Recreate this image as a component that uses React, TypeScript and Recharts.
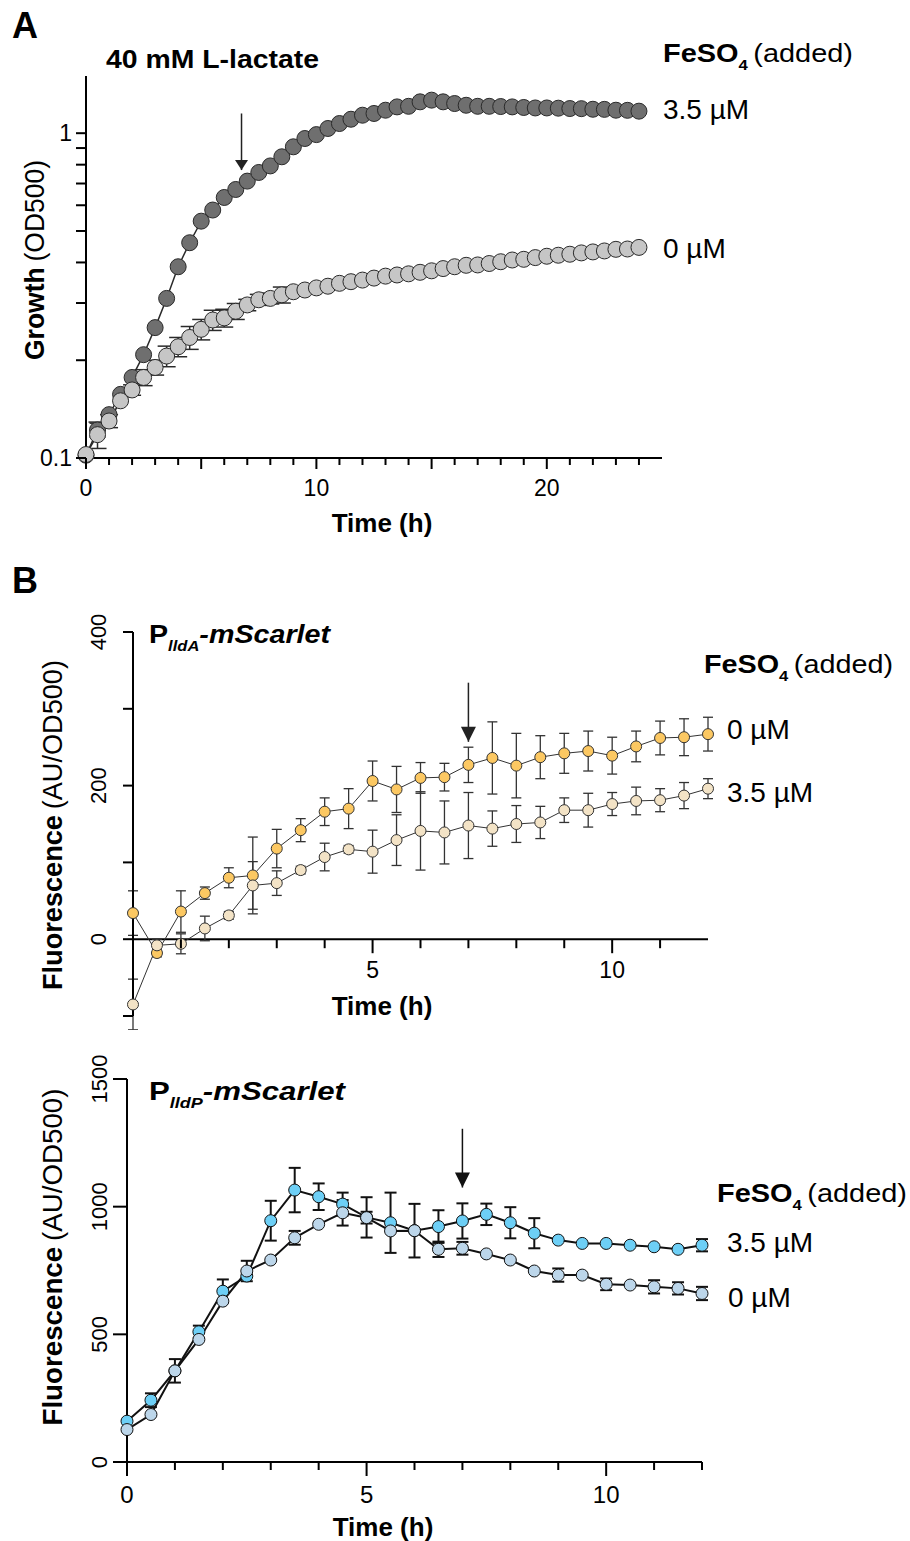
import {
  ComposedChart,
  Line,
  XAxis,
  YAxis,
  ErrorBar,
  ReferenceLine,
  ReferenceDot,
} from "recharts";

const FONT = "'Liberation Sans', Arial, Helvetica, sans-serif";

/* ---------- PANEL A: GROWTH ---------- */
const growthHours = [
  0, 0.5, 1, 1.5, 2, 2.5, 3, 3.5, 4, 4.5, 5, 5.5, 6, 6.5, 7, 7.5, 8, 8.5, 9, 9.5,
  10, 10.5, 11, 11.5, 12, 12.5, 13, 13.5, 14, 14.5, 15, 15.5, 16, 16.5, 17, 17.5,
  18, 18.5, 19, 19.5, 20, 20.5, 21, 21.5, 22, 22.5, 23, 23.5, 24,
];
// 3.5 µM FeSO4
const growthFe35 = [
  0.102, 0.122, 0.136, 0.157, 0.177, 0.208, 0.252, 0.31, 0.388, 0.46,
  0.536, 0.58, 0.634, 0.671, 0.712, 0.757, 0.793, 0.846, 0.908, 0.963,
  0.99, 1.034, 1.071, 1.104, 1.136, 1.15, 1.177, 1.205, 1.21, 1.249,
  1.264, 1.249, 1.234, 1.219, 1.21, 1.21, 1.208, 1.205, 1.2, 1.196,
  1.196, 1.194, 1.191, 1.19, 1.185, 1.184, 1.177, 1.176, 1.169,
];
const growthFe35Err = [
  0, 0.006, 0, 0, 0, 0, 0, 0, 0, 0,
  0, 0, 0, 0, 0, 0, 0, 0, 0, 0,
  0, 0, 0, 0, 0, 0, 0, 0, 0, 0,
  0, 0, 0, 0, 0, 0, 0, 0, 0, 0,
  0, 0, 0, 0, 0, 0, 0, 0, 0,
];
// 0 µM FeSO4
const growthFe0 = [
  0.1025, 0.118, 0.13, 0.15, 0.162, 0.177, 0.19, 0.206, 0.22, 0.235,
  0.249, 0.266, 0.27, 0.283, 0.296, 0.307, 0.31, 0.318, 0.325, 0.329,
  0.334, 0.338, 0.345, 0.349, 0.353, 0.358, 0.363, 0.366, 0.369, 0.373,
  0.377, 0.383, 0.388, 0.392, 0.393, 0.397, 0.402, 0.407, 0.409, 0.414,
  0.418, 0.421, 0.424, 0.428, 0.431, 0.434, 0.439, 0.44, 0.445,
];
const growthFe0Err = [
  0, 0.011, 0.006, 0, 0.006, 0.01, 0.01, 0.015, 0.015, 0.019,
  0.018, 0.019, 0.017, 0.016, 0.012, 0.012, 0.012, 0.018, 0, 0,
  0, 0, 0, 0, 0, 0, 0, 0, 0, 0,
  0, 0, 0, 0, 0, 0, 0, 0, 0, 0,
  0, 0, 0, 0, 0, 0, 0, 0, 0,
];
const growthTicksX = [
  0, 1, 2, 3, 4, 5, 6, 7, 8, 9, 10, 11, 12, 13, 14, 15, 16, 17, 18, 19, 20, 21, 22, 23, 24,
];
const growthTicksY = [0.1, 0.2, 0.3, 0.4, 0.5, 0.6, 0.7, 0.8, 0.9, 1];

/* ---------- PANEL B: REPORTERS ---------- */
const reporterHours = [
  0, 0.5, 1, 1.5, 2, 2.5, 3, 3.5, 4, 4.5, 5, 5.5, 6, 6.5, 7, 7.5, 8, 8.5, 9, 9.5,
  10, 10.5, 11, 11.5, 12,
];
const lldAFe0 = [
  34, -18, 36, 60, 80, 83, 118, 142, 166, 170, 206, 195, 210, 211, 227, 236, 226,
  237, 242, 245, 239, 251, 262, 263, 267,
];
const lldAFe0Err = [
  29, 5, 27, 8, 13, 50, 25, 15, 18, 26, 26, 30, 20, 18, 23, 47, 42, 28, 26, 26, 24,
  20, 22, 24, 22,
];
const lldAFe35 = [
  -85, -8, -6, 14, 31, 70, 73, 90, 107, 117, 114, 129, 141, 139, 148, 144, 150,
  152, 168, 168, 176, 180, 181, 187, 196,
];
const lldAFe35Err = [
  33, 8, 13, 16, 5, 31, 16, 5, 18, 5, 28, 33, 51, 41, 43, 23, 24, 21, 16, 22, 15,
  18, 15, 17, 13,
];
const lldPFe35 = [
  160, 242, 357, 510, 669, 728, 945, 1065, 1039, 1010, 958, 937, 906, 922, 944,
  970, 937, 896, 869, 856, 856, 849, 843, 833, 849,
];
const lldPFe35Err = [
  0, 27, 46, 24, 46, 0, 78, 87, 52, 45, 79, 118, 105, 64, 69, 42, 61, 59, 0, 0, 0,
  0, 0, 0, 24,
];
const lldPFe0 = [
  127, 186, 357, 480, 630, 748, 791, 878, 931, 976, 957, 905, 906, 833, 837, 815,
  791, 748, 732, 732, 696, 693, 686, 680, 660,
];
const lldPFe0Err = [
  0, 0, 0, 0, 0, 40, 0, 27, 0, 50, 23, 0, 0, 30, 25, 0, 0, 0, 26, 0, 23, 0, 26,
  24, 26,
];
const reporterTicksA = [1, 2, 3, 4, 5, 6, 7, 8, 9, 10, 11];
const reporterTicksP = [0, 1, 2, 3, 4, 5, 6, 7, 8, 9, 10, 11, 12];
const lldATicksY = [-100, 0, 100, 200, 300, 400];
const lldPTicksY = [0, 500, 1000, 1500];

/* ---------- ANNOTATIONS (iron addition arrows) ---------- */
const arrowA = { t: 6.75, from: 1.15, to: 0.77 };
const arrowLldA = { t: 7, from: 334, to: 257 };
const arrowLldP = { t: 7, from: 1305, to: 1075 };

/* ---------- TABLES ---------- */
const growthRows = growthHours.map((t, i) => ({
  t,
  hi: growthFe35[i],
  hiErr: growthFe35Err[i],
  lo: growthFe0[i],
  loErr: growthFe0Err[i],
}));
const lldARows = reporterHours.map((t, i) => ({
  t,
  fe0: lldAFe0[i],
  fe0Err: lldAFe0Err[i],
  fe35: lldAFe35[i],
  fe35Err: lldAFe35Err[i],
}));
const lldPRows = reporterHours.map((t, i) => ({
  t,
  fe35: lldPFe35[i],
  fe35Err: lldPFe35Err[i],
  fe0: lldPFe0[i],
  fe0Err: lldPFe0Err[i],
}));

/* ---------- GEOMETRY ---------- */
const LLDA_DOMAIN: [number, number] = [-100, 400];
const LLDA_H = 440;
const LLDA_TOP = 42;
const LLDA_XH = 14;
const LLDA_PLOT_H = LLDA_H - LLDA_TOP - LLDA_XH;
// x axis of the lldA panel sits on y = 0, not at the bottom
const LLDA_ZERO_SHIFT =
  (LLDA_PLOT_H * (0 - LLDA_DOMAIN[0])) / (LLDA_DOMAIN[1] - LLDA_DOMAIN[0]);

/* ---------- TICKS ---------- */
function TimeTick(props: any) {
  const { x, y, payload, shift = 0, majors, labels, minorLen, majorLen, gap, fontSize } = props;
  const v = payload.value;
  const y0 = y - shift;
  const len = majors.includes(v) ? majorLen : minorLen;
  return (
    <g>
      <line x1={x} x2={x} y1={y0} y2={y0 + len} stroke="#000" strokeWidth={2} />
      {labels.includes(v) && (
        <text
          x={x}
          y={y0 + gap}
          textAnchor="middle"
          fontSize={fontSize}
          fontFamily={FONT}
          fill="#000"
        >
          {v}
        </text>
      )}
    </g>
  );
}

function LogTick(props: any) {
  const { x, y, payload } = props;
  const v = payload.value;
  const show = v === 0.1 || v === 1;
  return (
    <g>
      <line x1={x - 10} x2={x} y1={y} y2={y} stroke="#000" strokeWidth={2} />
      {show && (
        <text
          x={x - 14}
          y={y}
          dy="0.36em"
          textAnchor="end"
          fontSize={23}
          fontFamily={FONT}
          fill="#000"
        >
          {v}
        </text>
      )}
    </g>
  );
}

function RotTick(props: any) {
  const { x, y, payload, labels, len, gap, fontSize } = props;
  const v = payload.value;
  return (
    <g>
      <line x1={x - len} x2={x} y1={y} y2={y} stroke="#000" strokeWidth={2} />
      {labels.includes(v) && (
        <text
          transform={`translate(${x - gap},${y}) rotate(-90)`}
          textAnchor="middle"
          fontSize={fontSize}
          fontFamily={FONT}
          fill="#000"
        >
          {v}
        </text>
      )}
    </g>
  );
}

function arrowHead(w: number, h: number, color: string) {
  return (p: any) => (
    <path
      d={`M${p.cx - w / 2},${p.cy - h} L${p.cx + w / 2},${p.cy - h} L${p.cx},${p.cy} Z`}
      fill={color}
    />
  );
}

/* ---------- TEXT HELPERS ---------- */
function FeHeader({ x, y, w }: { x: number; y: number; w: number }) {
  return (
    <text x={x} y={y} fontSize={26} textLength={w} lengthAdjust="spacingAndGlyphs">
      <tspan fontWeight="bold">FeSO</tspan>
      <tspan fontWeight="bold" fontSize={15} dy={8}>
        4
      </tspan>
      <tspan dy={-8} dx={5}>
        (added)
      </tspan>
    </text>
  );
}

function Promoter({ x, y, w, gene }: { x: number; y: number; w: number; gene: string }) {
  return (
    <text
      x={x}
      y={y}
      fontSize={26}
      fontWeight="bold"
      textLength={w}
      lengthAdjust="spacingAndGlyphs"
    >
      <tspan>P</tspan>
      <tspan fontStyle="italic" fontSize={15} dy={8}>
        {gene}
      </tspan>
      <tspan fontStyle="italic" dy={-8}>
        -mScarlet
      </tspan>
    </text>
  );
}

function FluorLabel({ x, y, w }: { x: number; y: number; w: number }) {
  return (
    <text
      transform={`translate(${x},${y}) rotate(-90)`}
      textAnchor="middle"
      fontSize={28}
      textLength={w}
      lengthAdjust="spacingAndGlyphs"
    >
      <tspan fontWeight="bold">Fluorescence</tspan>
      <tspan dx={6}>(AU/OD500)</tspan>
    </text>
  );
}

const AXIS = { stroke: "#000", strokeWidth: 2 };

/* ---------- COMPONENT ---------- */
export default function App() {
  return (
    <div
      style={{
        position: "absolute",
        left: 0,
        top: 0,
        width: 910,
        height: 1541,
        background: "#fff",
        fontFamily: FONT,
      }}
    >
      {/* PANEL A */}
      <div style={{ position: "absolute", left: 0, top: 0 }}>
        <ComposedChart
          width={700}
          height={540}
          data={growthRows}
          margin={{ top: 76, right: 38, bottom: 0, left: 0 }}
        >
          <XAxis
            type="number"
            dataKey="t"
            domain={[0, 25]}
            ticks={growthTicksX}
            interval={0}
            height={82}
            tickSize={0}
            tickMargin={0}
            axisLine={AXIS}
            tickLine={false}
            tick={(p: any) => (
              <TimeTick
                {...p}
                majors={[0, 5, 10, 15, 20]}
                labels={[0, 10, 20]}
                minorLen={7}
                majorLen={11}
                gap={38}
                fontSize={23}
              />
            )}
          />
          <YAxis
            type="number"
            scale="log"
            domain={[0.1, 1.5]}
            ticks={growthTicksY}
            interval={0}
            width={86}
            tickSize={0}
            tickMargin={0}
            axisLine={AXIS}
            tickLine={false}
            tick={(p: any) => <LogTick {...p} />}
          />
          <ReferenceLine
            segment={[
              { x: arrowA.t, y: arrowA.from },
              { x: arrowA.t, y: arrowA.to },
            ]}
            stroke="#222"
            strokeWidth={1.5}
          />
          <ReferenceDot
            x={arrowA.t}
            y={arrowA.to}
            shape={arrowHead(13, 10, "#222")}
          />
          <Line
            type="linear"
            dataKey="hi"
            stroke="#2a2a2a"
            strokeWidth={1.5}
            dot={{ r: 8, fill: "#6f6f6f", stroke: "#2a2a2a", strokeWidth: 1 }}
            isAnimationActive={false}
          >
            <ErrorBar dataKey="hiErr" width={8} stroke="#2a2a2a" strokeWidth={1.5} />
          </Line>
          <Line
            type="linear"
            dataKey="lo"
            stroke="#2a2a2a"
            strokeWidth={1.5}
            dot={{ r: 8, fill: "#c6c6c6", stroke: "#2a2a2a", strokeWidth: 1 }}
            isAnimationActive={false}
          >
            <ErrorBar dataKey="loErr" width={9} stroke="#2a2a2a" strokeWidth={1.5} />
          </Line>
        </ComposedChart>
      </div>

      {/* PANEL B - lldA */}
      <div style={{ position: "absolute", left: 0, top: 590 }}>
        <ComposedChart
          width={720}
          height={LLDA_H}
          data={lldARows}
          margin={{ top: LLDA_TOP, right: 12, bottom: 0, left: 0 }}
        >
          <XAxis
            type="number"
            dataKey="t"
            domain={[0, 12]}
            ticks={reporterTicksA}
            interval={0}
            height={LLDA_XH}
            tickSize={0}
            tickMargin={0}
            axisLine={false}
            tickLine={false}
            tick={(p: any) => (
              <TimeTick
                {...p}
                shift={LLDA_ZERO_SHIFT}
                majors={[5, 10]}
                labels={[5, 10]}
                minorLen={9}
                majorLen={14}
                gap={39}
                fontSize={23}
              />
            )}
          />
          <YAxis
            type="number"
            domain={LLDA_DOMAIN}
            allowDataOverflow
            ticks={lldATicksY}
            interval={0}
            width={133}
            tickSize={0}
            tickMargin={0}
            axisLine={AXIS}
            tickLine={false}
            tick={(p: any) => (
              <RotTick {...p} labels={[0, 200, 400]} len={10} gap={27} fontSize={22} />
            )}
          />
          <ReferenceLine y={0} stroke="#000" strokeWidth={2} />
          <ReferenceLine
            segment={[
              { x: arrowLldA.t, y: arrowLldA.from },
              { x: arrowLldA.t, y: arrowLldA.to },
            ]}
            stroke="#222"
            strokeWidth={1.5}
          />
          <ReferenceDot
            x={arrowLldA.t}
            y={arrowLldA.to}
            shape={arrowHead(15, 15, "#222")}
          />
          <Line
            type="linear"
            dataKey="fe0"
            stroke="#333"
            strokeWidth={1}
            dot={{ r: 5.5, fill: "#fcc862", stroke: "#333", strokeWidth: 1 }}
            isAnimationActive={false}
          >
            <ErrorBar dataKey="fe0Err" width={5} stroke="#333" strokeWidth={1.3} />
          </Line>
          <Line
            type="linear"
            dataKey="fe35"
            stroke="#333"
            strokeWidth={1}
            dot={{ r: 5.5, fill: "#f3e3c6", stroke: "#333", strokeWidth: 1 }}
            isAnimationActive={false}
          >
            <ErrorBar dataKey="fe35Err" width={5} stroke="#333" strokeWidth={1.3} />
          </Line>
        </ComposedChart>
      </div>

      {/* PANEL B - lldP */}
      <div style={{ position: "absolute", left: 0, top: 1040 }}>
        <ComposedChart
          width={720}
          height={501}
          data={lldPRows}
          margin={{ top: 39, right: 18, bottom: 0, left: 0 }}
        >
          <XAxis
            type="number"
            dataKey="t"
            domain={[0, 12]}
            ticks={reporterTicksP}
            interval={0}
            height={79}
            tickSize={0}
            tickMargin={0}
            axisLine={AXIS}
            tickLine={false}
            tick={(p: any) => (
              <TimeTick
                {...p}
                majors={[0, 5, 10]}
                labels={[0, 5, 10]}
                minorLen={8}
                majorLen={14}
                gap={41}
                fontSize={24}
              />
            )}
          />
          <YAxis
            type="number"
            domain={[0, 1500]}
            ticks={lldPTicksY}
            interval={0}
            width={127}
            tickSize={0}
            tickMargin={0}
            axisLine={AXIS}
            tickLine={false}
            tick={(p: any) => (
              <RotTick
                {...p}
                labels={[0, 500, 1000, 1500]}
                len={14}
                gap={20}
                fontSize={22}
              />
            )}
          />
          <ReferenceLine
            segment={[
              { x: arrowLldP.t, y: arrowLldP.from },
              { x: arrowLldP.t, y: arrowLldP.to },
            ]}
            stroke="#111"
            strokeWidth={1.5}
          />
          <ReferenceDot
            x={arrowLldP.t}
            y={arrowLldP.to}
            shape={arrowHead(15, 15, "#111")}
          />
          <Line
            type="linear"
            dataKey="fe35"
            stroke="#111"
            strokeWidth={2}
            dot={{ r: 6, fill: "#6dcff6", stroke: "#111", strokeWidth: 1 }}
            isAnimationActive={false}
          >
            <ErrorBar dataKey="fe35Err" width={6} stroke="#111" strokeWidth={2} />
          </Line>
          <Line
            type="linear"
            dataKey="fe0"
            stroke="#111"
            strokeWidth={2}
            dot={{ r: 6, fill: "#bcd6ea", stroke: "#111", strokeWidth: 1 }}
            isAnimationActive={false}
          >
            <ErrorBar dataKey="fe0Err" width={6} stroke="#111" strokeWidth={2} />
          </Line>
        </ComposedChart>
      </div>

      {/* TEXT OVERLAY */}
      <svg
        width={910}
        height={1541}
        style={{ position: "absolute", left: 0, top: 0, pointerEvents: "none" }}
        fontFamily={FONT}
        fill="#000"
      >
        {/* panel A */}
        <text x={12} y={38} fontSize={36} fontWeight="bold">
          A
        </text>
        <text
          x={106}
          y={68}
          fontSize={25}
          fontWeight="bold"
          textLength={213}
          lengthAdjust="spacingAndGlyphs"
        >
          40 mM L-lactate
        </text>
        <FeHeader x={663} y={62} w={190} />
        <text x={663} y={119} fontSize={28}>
          3.5 µM
        </text>
        <text x={663} y={258} fontSize={28}>
          0 µM
        </text>
        <text
          transform="translate(44,260) rotate(-90)"
          textAnchor="middle"
          fontSize={27}
          textLength={200}
          lengthAdjust="spacingAndGlyphs"
        >
          <tspan fontWeight="bold">Growth</tspan>
          <tspan dx={6}>(OD500)</tspan>
        </text>
        <text x={382} y={532} textAnchor="middle" fontSize={26} fontWeight="bold">
          Time (h)
        </text>

        {/* panel B top */}
        <text x={12} y={593} fontSize={36} fontWeight="bold">
          B
        </text>
        <Promoter x={149} y={643} w={181} gene="lldA" />
        <FeHeader x={704} y={673} w={189} />
        <text x={727} y={739} fontSize={28}>
          0 µM
        </text>
        <text x={727} y={802} fontSize={28}>
          3.5 µM
        </text>
        <FluorLabel x={62} y={825} w={330} />
        <text x={382} y={1015} textAnchor="middle" fontSize={26} fontWeight="bold">
          Time (h)
        </text>

        {/* panel B bottom */}
        <Promoter x={149} y={1100} w={196} gene="lldP" />
        <FeHeader x={717} y={1202} w={190} />
        <text x={727} y={1252} fontSize={28}>
          3.5 µM
        </text>
        <text x={728} y={1307} fontSize={28}>
          0 µM
        </text>
        <FluorLabel x={62} y={1257} w={337} />
        <text x={383} y={1536} textAnchor="middle" fontSize={26} fontWeight="bold">
          Time (h)
        </text>
      </svg>
    </div>
  );
}
